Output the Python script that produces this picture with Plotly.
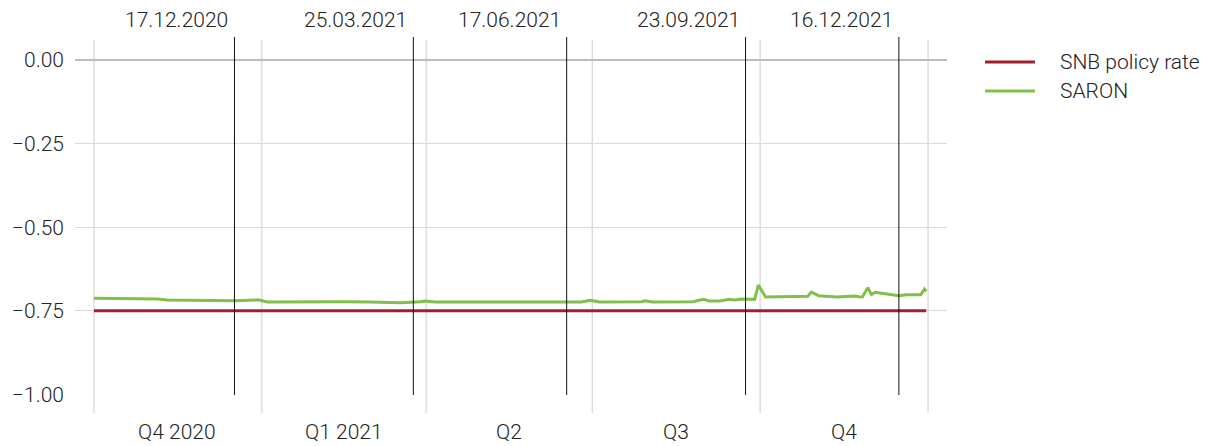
import plotly.graph_objects as go

# ---- data ----
saron_dates = [
    "2020-10-01", "2020-10-15", "2020-11-05", "2020-11-10", "2020-11-30", "2020-12-17",
    "2020-12-29", "2020-12-30", "2021-01-04", "2021-01-25", "2021-02-15", "2021-03-01",
    "2021-03-18", "2021-03-29", "2021-03-31", "2021-04-06", "2021-05-03", "2021-05-31",
    "2021-06-25", "2021-06-30", "2021-07-05", "2021-07-28", "2021-07-30", "2021-08-03",
    "2021-08-25", "2021-08-31", "2021-09-03", "2021-09-09", "2021-09-14", "2021-09-17",
    "2021-09-21", "2021-09-28", "2021-09-30", "2021-10-04", "2021-10-15", "2021-10-27",
    "2021-10-29", "2021-11-02", "2021-11-12", "2021-11-22", "2021-11-24", "2021-11-26",
    "2021-11-29", "2021-12-01", "2021-12-03", "2021-12-13", "2021-12-16", "2021-12-20",
    "2021-12-28", "2021-12-30", "2021-12-31",
]
saron_values = [
    -0.713, -0.714, -0.715, -0.718, -0.719, -0.720,
    -0.718, -0.717, -0.724, -0.723, -0.723, -0.724,
    -0.726, -0.723, -0.721, -0.724, -0.724, -0.725,
    -0.724, -0.719, -0.724, -0.723, -0.720, -0.724,
    -0.723, -0.716, -0.721, -0.721, -0.716, -0.718,
    -0.715, -0.716, -0.673, -0.709, -0.707, -0.707,
    -0.694, -0.705, -0.709, -0.706, -0.708, -0.709,
    -0.681, -0.702, -0.695, -0.701, -0.705, -0.702,
    -0.702, -0.685, -0.692,
]
policy_dates = ["2020-10-01", "2021-12-31"]
policy_values = [-0.75, -0.75]

meeting_dates = ["2020-12-17", "2021-03-25", "2021-06-17", "2021-09-23", "2021-12-16"]
meeting_labels = ["17.12.2020", "25.03.2021", "17.06.2021", "23.09.2021", "16.12.2021"]

quarter_bounds = ["2020-10-01", "2021-01-01", "2021-04-01", "2021-07-01", "2021-10-01", "2022-01-01"]
quarter_mids = ["2020-11-15 12:00", "2021-02-15", "2021-05-16 12:00", "2021-08-16", "2021-11-16"]
quarter_labels = ["Q4 2020", "Q1 2021", "Q2", "Q3", "Q4"]

y_ticks = [0.0, -0.25, -0.5, -0.75, -1.0]
y_ticktext = ["0.00", "\u22120.25", "\u22120.50", "\u22120.75", "\u22121.00"]

series_names = ["SNB policy rate", "SARON"]
series_colors = ["#a0202c", "#7fbf4a"]

FONT = "Roboto"
FS = 21
TXT = "#222222"

fig = go.Figure()
fig.add_trace(go.Scatter(x=policy_dates, y=policy_values, mode="lines",
                         line=dict(color=series_colors[0], width=3),
                         name=series_names[0], showlegend=False))
fig.add_trace(go.Scatter(x=saron_dates, y=saron_values, mode="lines",
                         line=dict(color=series_colors[1], width=3),
                         name=series_names[1], showlegend=False))

shapes = []
for d in quarter_bounds:
    shapes.append(dict(type="line", xref="x", yref="paper", x0=d, x1=d, y0=-0.05, y1=0.992,
                       line=dict(color="#cccccc", width=1), layer="below"))
for d in meeting_dates:
    shapes.append(dict(type="line", xref="x", yref="paper", x0=d, x1=d, y0=0, y1=1,
                       line=dict(color="#111111", width=1), layer="above"))

annotations = []
for d, t in zip(meeting_dates, meeting_labels):
    annotations.append(dict(x=d, y=1.047, xref="x", yref="paper", text=t, showarrow=False,
                            xanchor="right", yanchor="middle", xshift=-4,
                            font=dict(family=FONT, size=FS, color=TXT, weight=300)))
for d, t in zip(quarter_mids, quarter_labels):
    annotations.append(dict(x=d, y=-0.103, xref="x", yref="paper", text=t, showarrow=False,
                            xanchor="center", yanchor="middle",
                            font=dict(family=FONT, size=FS, color=TXT, weight=300)))

leg_y = [0.930, 0.849]
for name, col, yy in zip(series_names, series_colors, leg_y):
    shapes.append(dict(type="line", xref="paper", yref="paper", x0=1.0436, x1=1.1009,
                       y0=yy, y1=yy, line=dict(color=col, width=3)))
    annotations.append(dict(x=1.1273, y=yy, xref="paper", yref="paper", text=name,
                            showarrow=False, xanchor="left", yanchor="middle",
                            font=dict(family=FONT, size=FS, color=TXT, weight=300)))

# page body has an 8px margin: figure sized/margined so the plot lands where the reference has it
fig.update_layout(
    width=1205, height=438,
    margin=dict(l=67, r=266, t=29, b=51, autoexpand=False),
    paper_bgcolor="white", plot_bgcolor="white",
    font=dict(family=FONT, size=FS, color=TXT, weight=300),
    showlegend=False,
    shapes=shapes, annotations=annotations,
)
fig.update_xaxes(type="date", range=["2020-09-20 15:00", "2022-01-11 09:00"], automargin=False,
                 showgrid=False, showticklabels=False, ticks="", zeroline=False, showline=False)
fig.update_yaxes(range=[-1.002, 0.0687], tickvals=y_ticks, ticktext=y_ticktext, automargin=False,
                 showgrid=True, gridcolor="#d9d9d9", gridwidth=1,
                 zeroline=True, zerolinecolor="#bdbdbd", zerolinewidth=2,
                 showline=False, ticks="", ticklabelstandoff=10,
                 tickfont=dict(family=FONT, size=FS, color=TXT, weight=300))

fig.write_html("out.html")
